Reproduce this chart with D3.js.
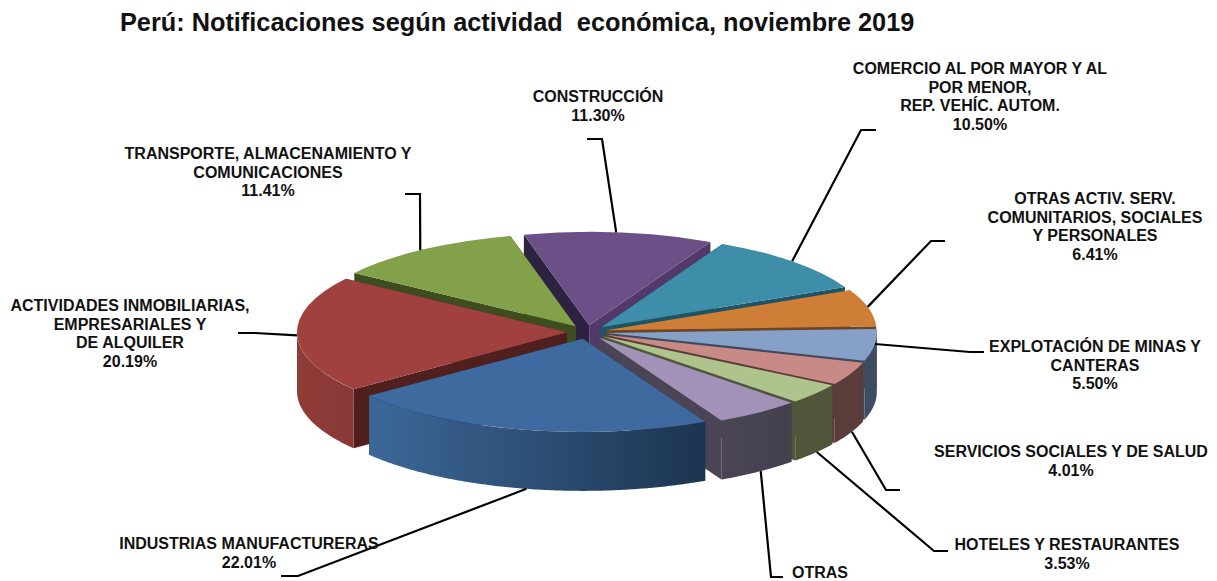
<!DOCTYPE html>
<html>
<head>
<meta charset="utf-8">
<script src="https://d3js.org/d3.v7.min.js"></script>
<title>Perú: Notificaciones según actividad económica</title>
<style>
html, body { margin: 0; padding: 0; background: white; }
svg { display: block; }
text { font-family: 'Liberation Sans', Arial, sans-serif; font-weight: 700; fill: #111; white-space: pre; }
.title { font-size: 25.3px; }
.label { font-size: 16px; text-anchor: middle; }
.leader { fill: none; stroke: #000; stroke-width: 2.2px; }
</style>
</head>
<body>
<svg></svg>
<script>
var width = 1217;
var height = 581;

var titleText = "Perú: Notificaciones según actividad  económica, noviembre 2019";

// clockwise, starting from the top of the pie
var categories = ["CONSTRUCCIÓN", "COMERCIO", "OTRAS ACTIV", "MINAS", "SALUD", "HOTELES", "OTRAS", "INDUSTRIAS", "INMOBILIARIAS", "TRANSPORTE"];
var values = [11.30, 10.50, 6.41, 5.50, 4.01, 3.53, 5.14, 22.01, 20.19, 11.41];

var labelLines = [
	["CONSTRUCCIÓN", "11.30%"],
	["COMERCIO AL POR MAYOR Y AL", "POR MENOR,", "REP. VEHÍC. AUTOM.", "10.50%"],
	["OTRAS ACTIV. SERV.", "COMUNITARIOS, SOCIALES", "Y PERSONALES", "6.41%"],
	["EXPLOTACIÓN DE MINAS Y", "CANTERAS", "5.50%"],
	["SERVICIOS SOCIALES Y DE SALUD", "4.01%"],
	["HOTELES Y RESTAURANTES", "3.53%"],
	["OTRAS"],
	["INDUSTRIAS MANUFACTURERAS", "22.01%"],
	["ACTIVIDADES INMOBILIARIAS,", "EMPRESARIALES Y", "DE ALQUILER", "20.19%"],
	["TRANSPORTE, ALMACENAMIENTO Y", "COMUNICACIONES", "11.41%"]
];

// slice colours
var topColors = ["#6b5087", "#3f8ea9", "#cf7e38", "#86a0c8", "#c78a87", "#aec48c", "#a392b8", "#3f6a9f", "#a0413f", "#83a04a"];
var startWall = ["#2d2240", "#1c5566", "#6e4520", "#3e4a5e", "#5b3a38", "#4f563a", "#4a4455", "#1d3450", "#50201e", "#3d4d1f"];
var endWall = ["#52396b", "#1c5566", "#6e4520", "#3e4a5e", "#5b3a38", "#4f563a", "#4a4455", "#1d3450", "#50201e", "#3d4d1f"];
var sideLeft = ["#52396b", "#1c5566", "#6e4520", "#3e4b60", "#5a3c3a", "#4f563a", "#4a4455", "#3c6898", "#8f3c39", "#3d4d1f"];
var sideRight = ["#52396b", "#1c5566", "#6e4520", "#3e4b60", "#5a3c3a", "#4f563a", "#44404e", "#1d3450", "#8a3836", "#3d4d1f"];

// label layout: text centre, first baseline, leader elbow and end, leader on lower rim or not
var labelX = [598, 980, 1095, 1095, 1071, 1067, 820, 249, 130, 268];
var labelY = [102, 74, 204, 352, 457, 550, 578, 549, 311, 159];
var elbowX = [602, 861, 931, 970, 886, 934, 771, 298, 255, 420];
var elbowY = [139, 130, 241, 352, 490, 551, 577, 576, 333, 194];
var endX = [587, 876, 945, 984, 900, 948, 783, 281, 238, 405];
var lowerRim = [false, false, false, false, true, true, true, true, false, false];

var cx = 587;
var cy = 332;
var rx = 270;
var tilt = 0.345;
var depth = 59;
var explode = 20;
var lineStep = 18.7;
var startDeg = -14;

var svg = d3.select("svg").attr("width", width).attr("height", height);
var defs = svg.append("defs");

svg.append("text").attr("class", "title").attr("x", 120).attr("y", 31).text(titleText);

var rad = Math.PI / 180;
var pie = d3.pie().sort(null)
	.startAngle(startDeg * rad)
	.endAngle((startDeg + 360) * rad);
var slices = pie(values);
var arc = d3.arc().innerRadius(0).outerRadius(rx);

slices.forEach(function(s, i) {
	s.i = i;
	s.mid = (s.startAngle + s.endAngle) / 2;
	s.ox = cx + explode * Math.sin(s.mid);
	s.oy = cy - explode * tilt * Math.cos(s.mid);
});

function rim(s, a, r) {
	return [s.ox + r * Math.sin(a), s.oy - r * tilt * Math.cos(a)];
}

function wall(s, a) {
	var p = rim(s, a, rx);
	return d3.line()([[s.ox, s.oy], p, [p[0], p[1] + depth], [s.ox, s.oy + depth]]) + "Z";
}

function outer(s) {
	var a0 = Math.max(s.startAngle, 90 * rad);
	var a1 = Math.min(s.endAngle, 270 * rad);
	if (a1 <= a0) return null;
	var angles = d3.range(a0, a1, 0.01).concat([a1]);
	var top = angles.map(function(a) { return rim(s, a, rx); });
	var bottom = top.slice().reverse().map(function(p) { return [p[0], p[1] + depth]; });
	return d3.line()(top.concat(bottom)) + "Z";
}

// back to front
var ordered = slices.slice().sort(function(a, b) {
	return d3.ascending(-Math.cos(a.mid), -Math.cos(b.mid));
});

var pieG = svg.append("g");

ordered.forEach(function(s) {
	var g = pieG.append("g");
	g.append("path").attr("d", wall(s, s.startAngle)).attr("fill", startWall[s.i]);
	g.append("path").attr("d", wall(s, s.endAngle)).attr("fill", endWall[s.i]);
	var o = outer(s);
	if (o) {
		var id = "side" + s.i;
		var grad = defs.append("linearGradient").attr("id", id);
		grad.append("stop").attr("offset", "0").attr("stop-color", sideLeft[s.i]);
		grad.append("stop").attr("offset", "1").attr("stop-color", sideRight[s.i]);
		g.append("path").attr("d", o).attr("fill", "url(#" + id + ")");
	}
	g.append("path")
		.attr("d", arc(s))
		.attr("transform", "translate(" + s.ox + "," + s.oy + ") scale(1," + tilt + ")")
		.attr("fill", topColors[s.i]);
});

// leaders
slices.forEach(function(s, i) {
	var p = rim(s, s.mid - 0.6 * rad, rx);
	if (lowerRim[i]) p[1] += depth;
	svg.append("path").attr("class", "leader")
		.attr("d", d3.line()([p, [elbowX[i], elbowY[i]], [endX[i], elbowY[i]]]));
});

// labels
labelLines.forEach(function(lines, i) {
	var t = svg.append("text").attr("class", "label");
	lines.forEach(function(l, j) {
		t.append("tspan").attr("x", labelX[i]).attr("y", labelY[i] + j * lineStep).text(l);
	});
});
</script>
</body>
</html>
